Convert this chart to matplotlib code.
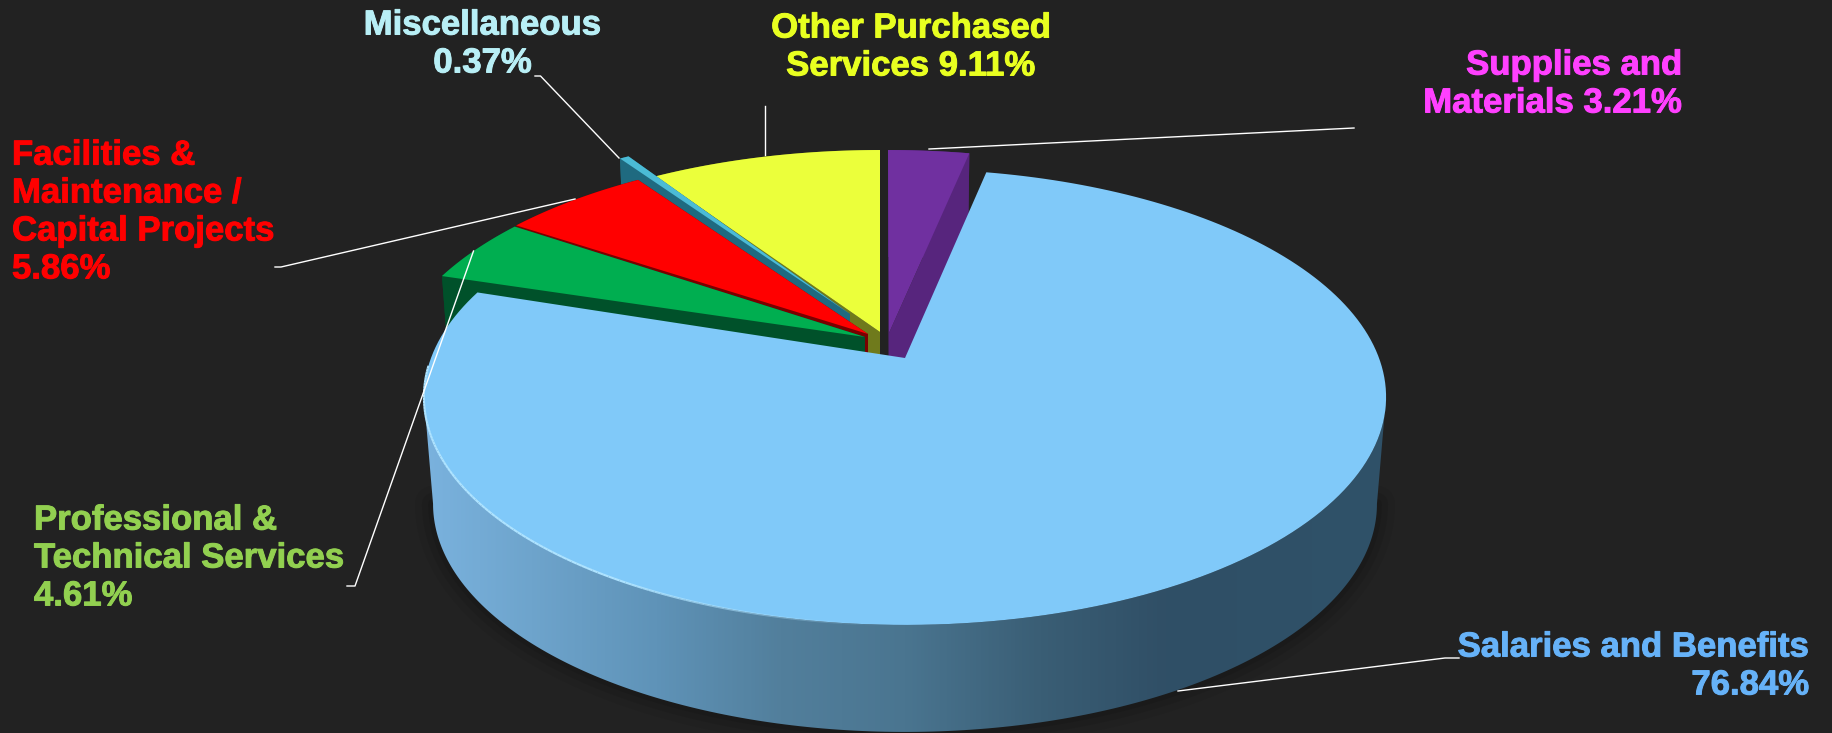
import matplotlib
matplotlib.use("Agg")
import matplotlib.pyplot as plt
import matplotlib.patheffects as pe
import numpy as np
from matplotlib.patches import Polygon
from matplotlib.collections import LineCollection
from matplotlib.colors import LinearSegmentedColormap, to_rgb

# spending shares, clockwise from 12 o'clock
categories = ["Supplies and Materials", "Salaries and Benefits", "Professional & Technical Services",
              "Facilities & Maintenance / Capital Projects", "Miscellaneous", "Other Purchased Services"]
shares = [3.21, 76.84, 4.61, 5.86, 0.37, 9.11]

# text of the labels
label_texts = ["Supplies and\nMaterials 3.21%", "Salaries and Benefits\n76.84%",
               "Professional &\nTechnical Services\n4.61%",
               "Facilities &\nMaintenance /\nCapital Projects\n5.86%",
               "Miscellaneous\n0.37%", "Other Purchased\nServices 9.11%"]

# colours: label, top face, side
label_colors = ["#ff40ff", "#66b2f8", "#92d050", "#ff0000", "#b8eff6", "#e8ff20"]
top_colors = ["#7030a0", "#80c9f9", "#00ae50", "#ff0000", "#4bbbd6", "#ebff3b"]
side_colors = ["#57257d", "#4f7f9f", "#00512a", "#7a0000", "#1f6a80", "#6f7a1c"]

# centre of each pulled-out slice's arc, in pixels
arc_x = [888, 905, 869.5, 871, 853, 880]
arc_y = [339, 358, 341.6, 340.4, 319, 339]
# the pointed end of each slice
point_x = [889, 905, 865, 868, 850, 880]
point_y = [333, 358, 337, 334, 314, 332]

BG = "#222222"
DEPTH = 107
TOP_A, BASE_A = 474, 465
B = 221.3
K = 0.171


def arc(t0, t1, cx, cy, base=False, n=200):
    # outer edge of a slice in perspective
    t = np.radians(np.linspace(t0, t1, n))
    w = 1 + K * np.cos(t)
    a = BASE_A if base else TOP_A
    y0 = cy + DEPTH if base else cy
    return np.column_stack([cx + a * np.sin(t) / w, y0 - B * np.cos(t) / w])


fig = plt.figure(figsize=(18.32, 7.33), dpi=100, facecolor=BG)
ax = fig.add_axes([0, 0, 1, 1])
ax.set_facecolor(BG)

edges = np.concatenate([[0], np.cumsum(shares)]) * 3.6

# back slices first, salaries last
for i in [5, 4, 3, 2, 0]:
    t0, t1 = edges[i], edges[i + 1]
    px, py = point_x[i], point_y[i]
    top_arc = arc(t0, t1, arc_x[i], arc_y[i])
    base_arc = arc(t0, t1, arc_x[i], arc_y[i], True)
    for pts in ([[px, py], top_arc[0], base_arc[0], [px, py + DEPTH]],
                [[px, py], top_arc[-1], base_arc[-1], [px, py + DEPTH]],
                np.vstack([top_arc, base_arc[::-1]])):
        ax.add_patch(Polygon(pts, closed=True, fc=side_colors[i], ec="none", zorder=2))
    ax.add_patch(Polygon(np.vstack([[px, py], top_arc]), closed=True, fc=top_colors[i],
                         ec="none", zorder=2))

# salaries wall, front part only, shaded left to right
t0, t1 = edges[1], edges[2]
front_top = arc(99.8, 260.2, arc_x[1], arc_y[1])
front_base = arc(99.8, 260.2, arc_x[1], arc_y[1], True)
wall = np.vstack([front_top, front_base[::-1]])

# soft shadow under the wall
for lw, alpha in [(26, 0.05), (16, 0.07), (7, 0.09)]:
    ax.plot(front_base[:, 0], front_base[:, 1], color="black", lw=lw, alpha=alpha, zorder=1,
            solid_capstyle="round")

shade = LinearSegmentedColormap.from_list("shade", [
    (0.0, "#7ab2de"), (0.11, "#6ea4cc"), (0.24, "#5f93b8"), (0.37, "#527f9c"),
    (0.50, "#4a7590"), (0.64, "#3a5e75"), (0.77, "#304f66"), (1.0, "#2f5269")])
img = ax.imshow(np.linspace(0, 1, 512)[None, :], cmap=shade, extent=[424, 1387, 733, 390],
                aspect="auto", zorder=2.5)
clip = Polygon(wall, closed=True, transform=ax.transData, fc="none", ec="none")
ax.add_patch(clip)
img.set_clip_path(clip)

# salaries top face
top_arc = arc(t0, t1, arc_x[1], arc_y[1])
ax.add_patch(Polygon(np.vstack([[point_x[1], point_y[1]], top_arc]), closed=True, fc=top_colors[1],
                     ec="none", zorder=3))

# light rim along the front left, fading towards the bottom
rim = arc(182, 268, arc_x[1], arc_y[1], n=120)
segs = np.stack([rim[:-1], rim[1:]], axis=1)
rim_rgba = np.zeros((len(segs), 4))
rim_rgba[:, :3] = to_rgb("#aee3ff")
rim_rgba[:, 3] = np.clip(np.linspace(0, 3, len(segs)), 0, 1)
ax.add_collection(LineCollection(segs, colors=rim_rgba, linewidths=1.5, zorder=3.1))

# leader lines
leaders = [
    ([929, 1354], [149, 128]),
    ([1178, 1445, 1459], [691, 658, 658]),
    ([473.5, 355, 347], [251, 586, 586]),
    ([575, 281, 275], [199, 267, 267]),
    ([619, 540.5, 535], [158, 76, 76]),
    ([765, 765], [155, 106]),
]
for lx, ly in leaders:
    ax.plot(lx, ly, color="white", lw=1.0, zorder=4)

# label anchors
label_x = [1682, 1809, 34, 12, 482.5, 911]
label_y = [84, 666, 558, 212, 44, 47]
label_ha = ["right", "right", "left", "left", "center", "center"]
for i, txt in enumerate(label_texts):
    t = ax.text(label_x[i], label_y[i], txt, color=label_colors[i], ha=label_ha[i], va="center",
                multialignment=label_ha[i], fontsize=25, fontweight="bold",
                family="Liberation Sans", linespacing=1.19, zorder=5)
    t.set_path_effects([pe.withStroke(linewidth=0.7, foreground=label_colors[i])])

ax.set_xlim(0, 1832)
ax.set_ylim(733, 0)
ax.axis("off")

fig.savefig("out.png", dpi=100, facecolor=BG)
plt.close(fig)
